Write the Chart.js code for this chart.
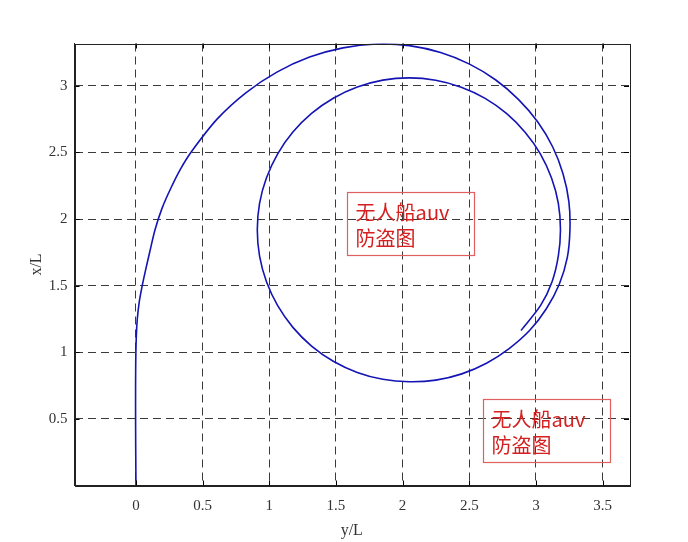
<!DOCTYPE html>
<html>
<head>
<meta charset="utf-8">
<script src="https://cdn.jsdelivr.net/npm/chart.js@4/dist/chart.umd.min.js"></script>
<style>
  html, body { margin: 0; padding: 0; background: #fff; }
  canvas { display: block; }
</style>
</head>
<body>
<canvas id="c" width="688" height="542"></canvas>
<script>
// ---- data ----
const pathY = [ // horizontal axis values (y/L)
  0.000, -0.002, -0.003, -0.002, 0.002, 0.010, 0.025, 0.047, 0.075, 0.105, 0.143, 0.196,
  0.263, 0.336, 0.421, 0.610, 0.824, 1.057, 1.302, 1.553, 1.804, 2.050, 2.285, 2.502, 2.699,
  2.870, 3.014, 3.126, 3.203, 3.247, 3.255, 3.235, 3.175, 3.078, 2.952, 2.799, 2.629,
  2.444, 2.249, 2.050,
  1.852, 1.660, 1.480, 1.317, 1.177, 1.063, 0.979, 0.927, 0.910, 0.927, 0.979, 1.063,
  1.177, 1.317, 1.480, 1.660, 1.852, 2.050, 2.248, 2.440, 2.619, 2.781, 2.920, 3.034,
  3.117, 3.168, 3.184, 3.168, 3.121, 3.035, 2.888
];
const pathX = [ // vertical axis values (x/L)
  0.00, 0.30, 0.60, 0.90, 1.10, 1.25, 1.38, 1.50, 1.63, 1.76, 1.920, 2.082,
  2.235, 2.379, 2.513, 2.752, 2.948, 3.103, 3.216, 3.285, 3.314, 3.302, 3.250, 3.163, 3.044,
  2.897, 2.729, 2.541, 2.340, 2.131, 1.920, 1.711, 1.511, 1.327, 1.163, 1.028, 0.918,
  0.838, 0.791, 0.779,
  0.797, 0.849, 0.933, 1.047, 1.187, 1.350, 1.530, 1.722, 1.920, 2.118, 2.310, 2.490,
  2.653, 2.793, 2.907, 2.991, 3.043, 3.060, 3.042, 2.990, 2.906, 2.791, 2.650, 2.488,
  2.308, 2.117, 1.920, 1.723, 1.530, 1.352, 1.164
];
const xTickValues = [0, 0.5, 1, 1.5, 2, 2.5, 3, 3.5];
const yTickValues = [0.5, 1, 1.5, 2, 2.5, 3];
const xLabel = 'y/L';
const yLabel = 'x/L';
const watermarkLines = ['无人船auv', '防盗图'];
const watermarkAnchors = [ {x: 1.58, y: 2.2}, {x: 2.6, y: 0.65} ]; // top-left corners in data units

// ---- chart ----
const PLOT = {left: 74.5, right: 629, top: 43.5, bottom: 485.5};
const serif = '"Liberation Serif", "Times New Roman", serif';

const points = pathY.map((v, i) => ({x: v, y: pathX[i]}));

const framePlugin = {
  id: 'frame',
  afterDraw(chart) {
    const {ctx, chartArea: a, scales} = chart;
    ctx.save();
    // ticks inside
    ctx.strokeStyle = '#000';
    ctx.lineWidth = 1;
    ctx.beginPath();
    xTickValues.forEach(v => {
      const px = Math.round(scales.x.getPixelForValue(v)) + 0.5;
      ctx.moveTo(px, a.bottom); ctx.lineTo(px, a.bottom - 5);
      ctx.moveTo(px, a.top); ctx.lineTo(px, a.top + 5);
    });
    yTickValues.forEach(v => {
      const py = Math.round(scales.y.getPixelForValue(v)) + 0.5;
      ctx.moveTo(a.left, py); ctx.lineTo(a.left + 5, py);
      ctx.moveTo(a.right, py); ctx.lineTo(a.right - 5, py);
    });
    ctx.stroke();
    // box
    ctx.strokeStyle = '#222';
    ctx.strokeRect(Math.round(a.left) + 0.5, Math.round(a.top) + 0.5,
                   Math.round(a.right - a.left), Math.round(a.bottom - a.top));
    // watermarks
    watermarkAnchors.forEach(p => {
      const bx = scales.x.getPixelForValue(p.x);
      const by = scales.y.getPixelForValue(p.y);
      ctx.strokeStyle = '#e06060';
      ctx.lineWidth = 1.2;
      ctx.strokeRect(Math.round(bx) + 0.5, Math.round(by) + 0.5, 127, 63);
      ctx.fillStyle = '#d42020';
      ctx.font = '20px "Noto Sans CJK SC", sans-serif';
      ctx.textBaseline = 'middle';
      ctx.textAlign = 'left';
      ctx.fillText(watermarkLines[0], bx + 9, by + 20);
      ctx.fillText(watermarkLines[1], bx + 9, by + 46);
    });
    ctx.restore();
  }
};

new Chart(document.getElementById('c'), {
  type: 'scatter',
  data: {
    datasets: [{
      data: points,
      showLine: true,
      borderColor: '#1414b4',
      borderWidth: 1.6,
      pointRadius: 0,
      tension: 0.3,
      fill: false
    }]
  },
  options: {
    responsive: false,
    animation: false,
    devicePixelRatio: 1,
    layout: {padding: {left: 0, right: 688 - PLOT.right, top: PLOT.top, bottom: 2}},
    plugins: {legend: {display: false}, tooltip: {enabled: false}},
    scales: {
      x: {
        type: 'linear',
        min: -0.461, max: 3.698,
        afterBuildTicks: s => { s.ticks = xTickValues.map(v => ({value: v})); },
        afterFit: s => { s.height = 542 - 2 - PLOT.bottom; },
        grid: {color: '#3a3a3a', lineWidth: 1, drawTicks: false},
        border: {display: true, color: '#222', dash: [8, 5]},
        ticks: {color: '#333', padding: 12, maxRotation: 0, autoSkip: false,
                font: {family: serif, size: 15}, callback: v => String(v)},
        title: {display: true, text: xLabel, color: '#333',
                font: {family: serif, size: 16}, padding: {top: 0, bottom: 0}}
      },
      y: {
        type: 'linear',
        min: 0, max: 3.318,
        afterBuildTicks: s => { s.ticks = yTickValues.map(v => ({value: v})); },
        afterFit: s => { s.width = PLOT.left; },
        grid: {color: '#3a3a3a', lineWidth: 1, drawTicks: false},
        border: {display: true, color: '#222', dash: [8, 5]},
        ticks: {color: '#333', padding: 7, autoSkip: false,
                font: {family: serif, size: 15}, callback: v => String(v)},
        title: {display: true, text: yLabel, color: '#333',
                font: {family: serif, size: 16}, padding: {top: 27, bottom: 0}}
      }
    }
  },
  plugins: [framePlugin]
});
</script>
</body>
</html>
